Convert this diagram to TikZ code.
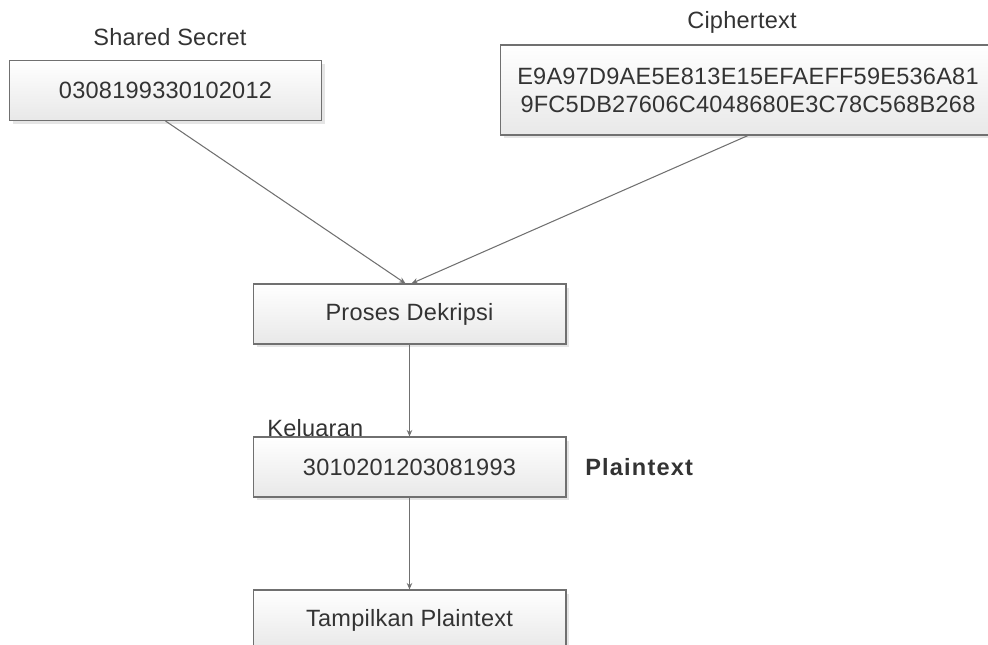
\documentclass[tikz,border=0pt]{standalone}
\usepackage{fontspec}
\setmainfont{Liberation Sans}
\usepackage{tikz}
\usetikzlibrary{arrows.meta,shadows}

\definecolor{linegray}{HTML}{707070}
\definecolor{textgray}{HTML}{333333}

\begin{document}
\begin{tikzpicture}[x=0.02cm,y=-0.02cm,
  font=\fontsize{13.4}{16}\selectfont\addfontfeature{LetterSpace=1}, text=textgray,
  box/.style={draw=linegray, line width=0.6pt, top color=white, bottom color=black!9,
    drop shadow={shadow xshift=0.07cm, shadow yshift=-0.07cm, fill=black!10, opacity=1},
    minimum width=6.26cm, minimum height=1.2cm, inner sep=0pt, align=center},
  flow/.style={draw=linegray, line width=0.6pt, -{Stealth[length=1.3mm,width=1.1mm]}}]

\useasboundingbox (0,0) rectangle (988,645);
\clip (0,0) rectangle (988,645);

\node[box] (secret) at (165.5,90.5) {0308199330102012};
\node[box, minimum width=9.92cm, minimum height=1.8cm] (cipher) at (748,90)
  {E9A97D9AE5E813E15EFAEFF59E536A81\\9FC5DB27606C4048680E3C78C568B268};
\node[box] (proses) at (409.5,314) {Proses Dekripsi};
\node[box] (keluar) at (409.5,467) {3010201203081993};
\node[box] (tampil) at (409.5,620) {Tampilkan Plaintext};

\node (secretlabel) at (170,37) {Shared Secret};
\node (cipherlabel) at (742,22) {Ciphertext};
\node[anchor=west, inner sep=0pt] (keluarlabel) at (267,428) {Keluaran};
\node[anchor=west, inner sep=0pt, font=\fontsize{13.4}{16}\selectfont\bfseries\addfontfeature{LetterSpace=5}] (plainlabel) at (585,467) {Plaintext};

\path[flow] (secret.south) -- ([xshift=-0.08cm]proses.north);
\path[flow] (cipher.south) -- ([xshift=0.04cm]proses.north);
\path[flow] (proses.south) -- (keluar.north);
\path[flow] (keluar.south) -- (tampil.north);

\end{tikzpicture}
\end{document}
